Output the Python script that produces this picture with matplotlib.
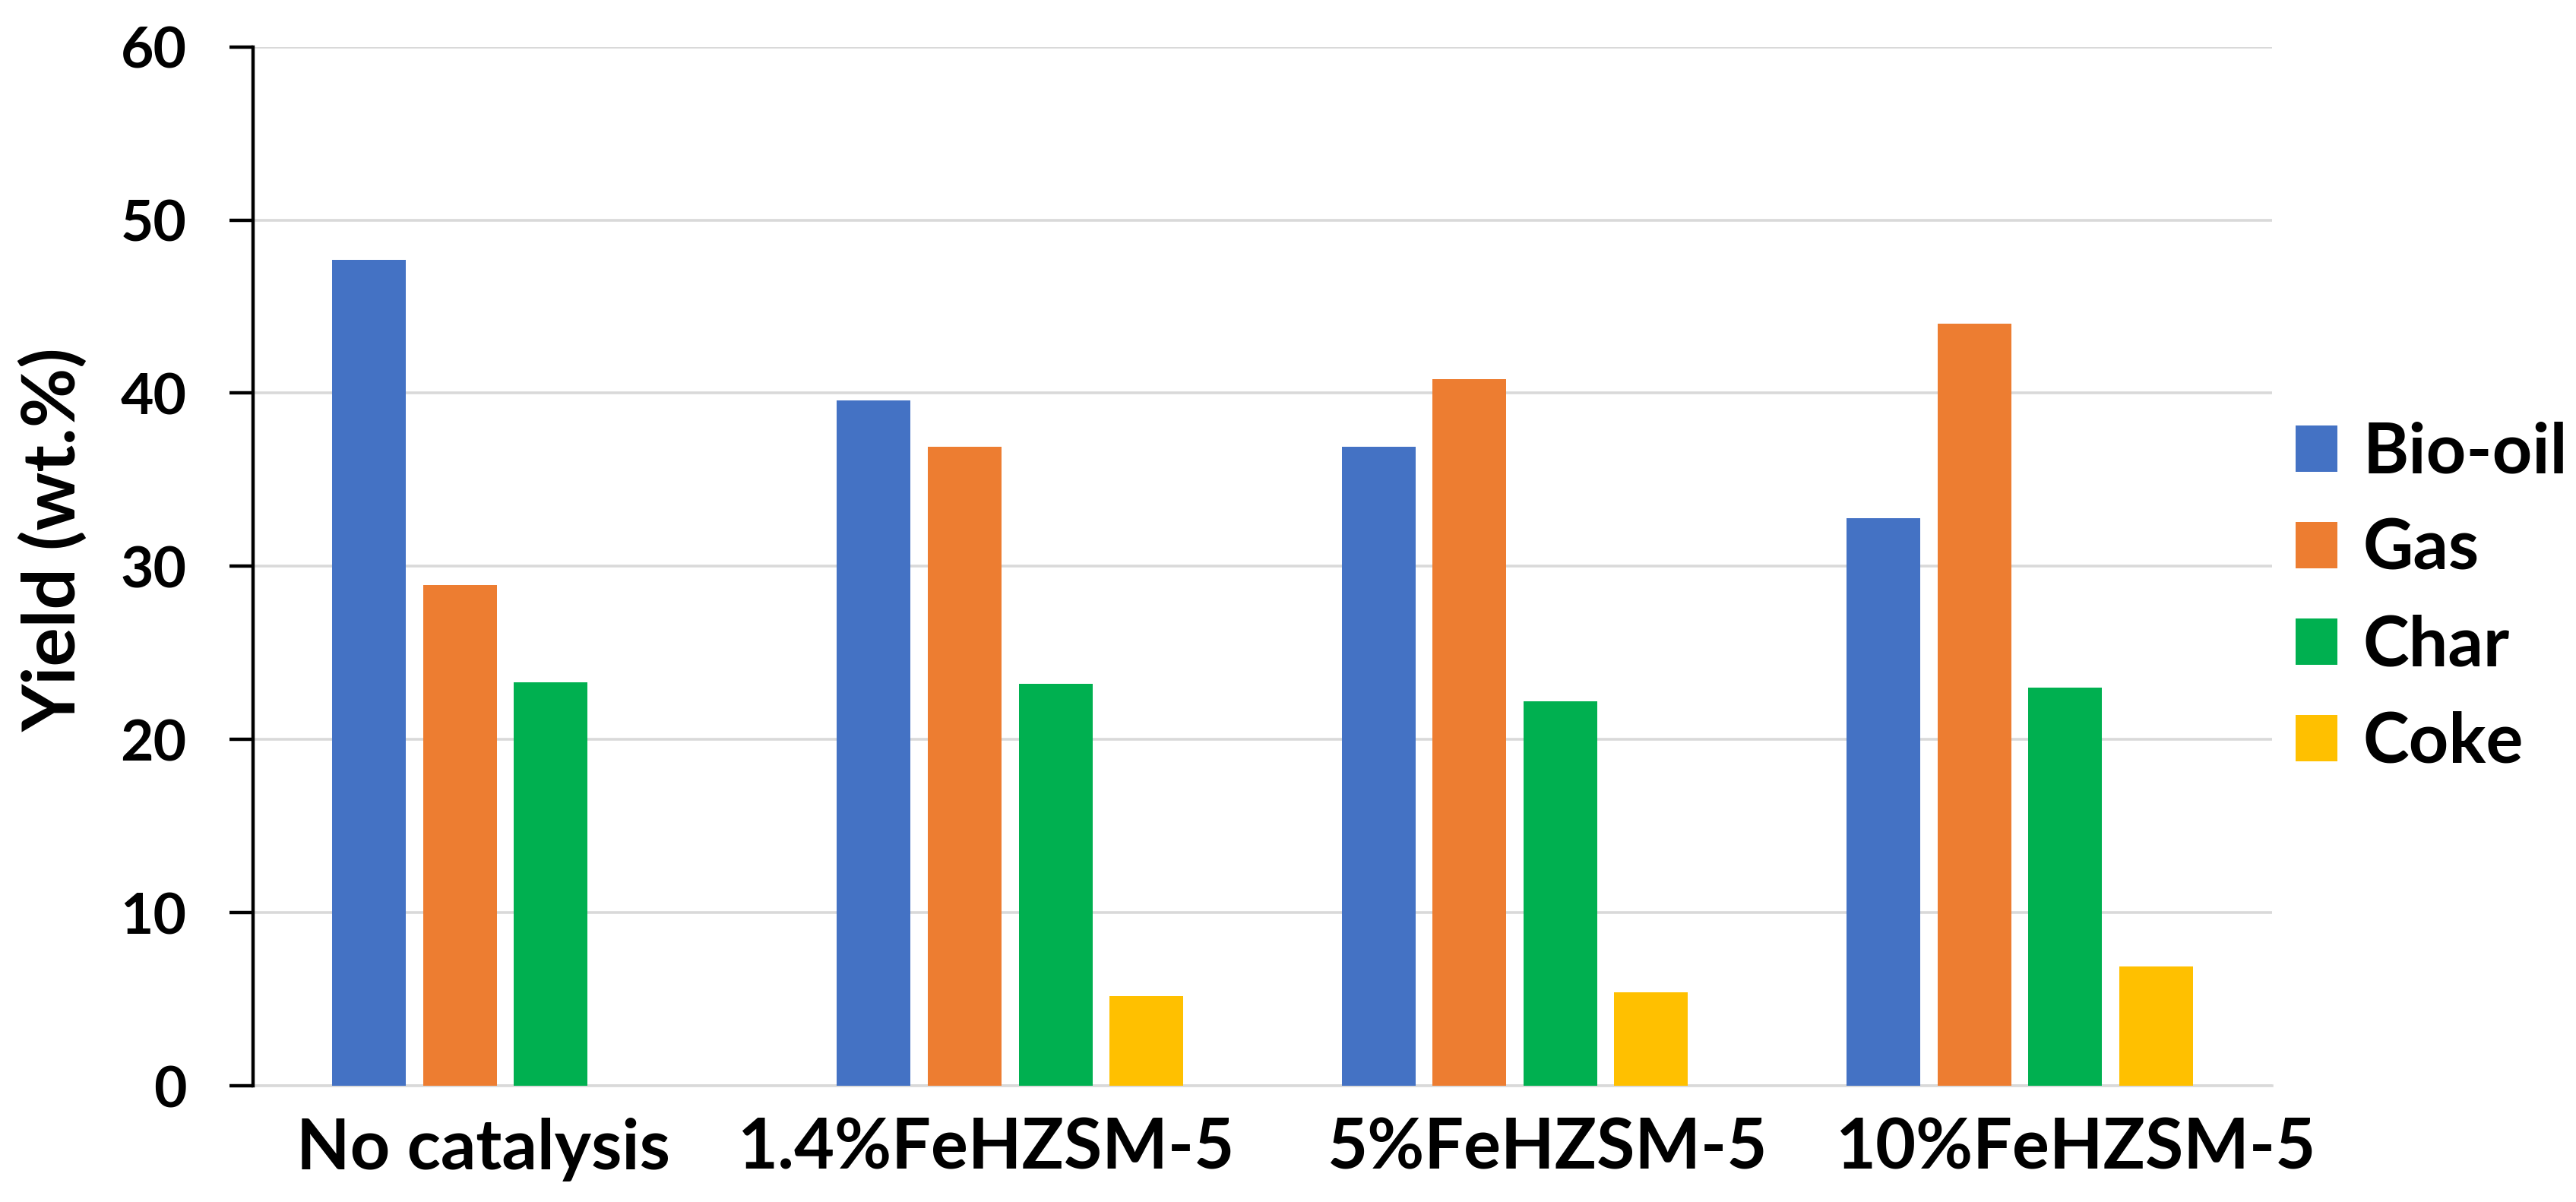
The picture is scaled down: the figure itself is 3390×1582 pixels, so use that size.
"""
    Product yields of pyrolysis with and without Fe-modified HZSM-5 catalysts.
"""

import numpy as np
import matplotlib
matplotlib.use("Agg")
import matplotlib.pyplot as plt
import matplotlib.transforms as mtransforms

# Data (wt.%)
catalysts = ["No catalysis", "1.4%FeHZSM-5", "5%FeHZSM-5", "10%FeHZSM-5"]
products = ["Bio-oil", "Gas", "Char", "Coke"]
bio_oil = [47.7, 39.6, 36.9, 32.8]
gas = [28.9, 36.9, 40.8, 44.0]
char = [23.3, 23.2, 22.2, 23.0]
coke = [0.0, 5.2, 5.4, 6.9]
y_ticks = [0, 10, 20, 30, 40, 50, 60]

colors = ["#4472C4", "#ED7D31", "#00B050", "#FFC000"]

plt.rcParams['font.family'] = ['Lato', 'DejaVu Sans']
plt.rcParams['font.weight'] = 'bold'

fig = plt.figure(figsize=(33.9, 15.82), dpi=100)
ax = fig.add_axes([0.0982, 0.0967, 0.7838, 0.8643])

x = np.arange(len(catalysts))
bar_width = 0.146
pitch = 0.18

series = [bio_oil, gas, char, coke]
for i, (name, values) in enumerate(zip(products, series)):
    ax.bar(x + (i - 1.5) * pitch, values, width=bar_width, color=colors[i],
           label=name, zorder=3)

# Axis limits and ticks
ax.set_xlim(-0.5, len(catalysts) - 0.5)
ax.set_ylim(0, 60)
ax.set_yticks(y_ticks)
ax.set_yticklabels([str(t) for t in y_ticks], fontsize=54, fontweight='bold')
ax.set_xticks(x)
ax.set_xticklabels(catalysts, fontsize=66, fontweight='bold')

ax.tick_params(axis='y', length=22, width=3.2, pad=41, color='black')
ax.tick_params(axis='x', length=0, pad=30)

# Shift the category labels a little, as in the original
label_shift = [-21, -23, 31, 53]
for lab, dx in zip(ax.get_xticklabels(), label_shift):
    lab.set_transform(lab.get_transform() +
                      mtransforms.ScaledTranslation(dx / 72, 0, fig.dpi_scale_trans))

# Grid and spines
ax.yaxis.grid(True, color='#D9D9D9', linewidth=2.6, zorder=0)
ax.set_axisbelow(True)
for side in ['top', 'right']:
    ax.spines[side].set_visible(False)
ax.spines['left'].set_linewidth(3.2)
ax.spines['left'].set_zorder(4)
ax.spines['bottom'].set_color('#D9D9D9')
ax.spines['bottom'].set_linewidth(2.6)

fig.text(70 / 3390, 1 - 710 / 1582, "Yield (wt.%)", rotation=90,
         ha='center', va='center', fontsize=69, fontweight='bold')

# Legend at the right of the plot
ax.legend(loc='center left', bbox_to_anchor=(3021 / 3390, 1 - 787 / 1582),
          bbox_transform=fig.transFigure, frameon=False, fontsize=66,
          handlelength=0.6, handleheight=0.65, handletextpad=0.37,
          labelspacing=0.47, borderpad=0, borderaxespad=0)

fig.savefig("out.png", dpi=100)
